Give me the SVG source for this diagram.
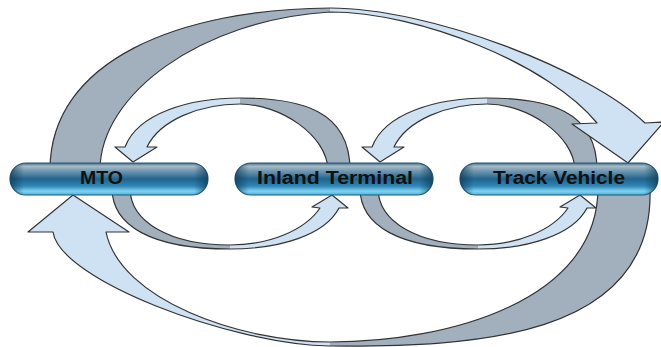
<svg xmlns="http://www.w3.org/2000/svg" width="661" height="347" viewBox="0 0 661 347">
<defs>
<style>
.gray{fill:#a2b0be}
.blue{fill:#cfe2f3}
.edge{fill:none;stroke:#333;stroke-width:1.2;stroke-linejoin:round}
.pill{fill:url(#pillV);stroke:#24597a;stroke-width:1.2}
.shade{fill:url(#pillH)}
.label{font-family:"Liberation Sans",Arial,sans-serif;font-weight:bold;font-size:18px;fill:#111;text-anchor:middle}
</style>
<linearGradient id="pillV" x1="0" y1="0" x2="0" y2="1">
<stop offset="0" stop-color="#3a6a86"/>
<stop offset="0.1" stop-color="#a9bcc7"/>
<stop offset="0.25" stop-color="#6f98b2"/>
<stop offset="0.5" stop-color="#21648d"/>
<stop offset="0.72" stop-color="#2f86b6"/>
<stop offset="0.88" stop-color="#7fd3f2"/>
<stop offset="1" stop-color="#4fb0d8"/>
</linearGradient>
<linearGradient id="pillH" x1="0" y1="0" x2="1" y2="0">
<stop offset="0" stop-color="#0e3a55" stop-opacity="0.7"/>
<stop offset="0.07" stop-color="#0e3a55" stop-opacity="0"/>
<stop offset="0.93" stop-color="#0e3a55" stop-opacity="0"/>
<stop offset="1" stop-color="#0e3a55" stop-opacity="0.7"/>
</linearGradient>
<path id="smallTop" d="M125,147 C138,113 190,98 240,98 C300,98 350,110 350,170 L328,170 C327,135 280,104 240,104 C200,104 160,120 147,147 L157,147 L133,162 L115,147 Z"/>
<path id="smallTopGray" d="M240,98 C300,98 350,110 350,170 L328,170 C327,135 280,104 240,104 Z"/>
<path id="smallBot" d="M112,188 C112,225 150,249 230,249 C280,249 325,235 339,208 L348,208 L332,195 L312,207 L320,208 C305,230 270,245 230,245 C170,245 130,222 130,188 Z"/>
<path id="smallBotGray" d="M112,188 C112,225 150,249 230,249 L230,245 C170,245 130,222 130,188 Z"/>
</defs>
<g id="connectors">
  <g id="small-top-left">
    <use href="#smallTop" class="blue"/>
    <use href="#smallTopGray" class="gray"/>
    <use href="#smallTop" class="edge"/>
  </g>
  <g id="small-top-right" transform="translate(247,0)">
    <use href="#smallTop" class="blue"/>
    <use href="#smallTopGray" class="gray"/>
    <use href="#smallTop" class="edge"/>
  </g>
  <g id="small-bottom-left">
    <use href="#smallBot" class="blue"/>
    <use href="#smallBotGray" class="gray"/>
    <use href="#smallBot" class="edge"/>
  </g>
  <g id="small-bottom-right" transform="translate(248,0)">
    <use href="#smallBot" class="blue"/>
    <use href="#smallBotGray" class="gray"/>
    <use href="#smallBot" class="edge"/>
  </g>
  <g id="big-top">
    <path class="blue" d="M50,170 C50,60 180,9 330,8 C430,8 590,70 645,123 L664,122 L628,163 L572,124 L597,123 C550,65 420,12 330,12 C200,20 100,95 100,170 Z"/>
    <path class="gray" d="M50,170 C50,60 180,9 330,8 L330,12 C200,20 100,95 100,170 Z"/>
    <path class="edge" d="M50,170 C50,60 180,9 330,8 C430,8 590,70 645,123 L664,122 L628,163 L572,124 L597,123 C550,65 420,12 330,12 C200,20 100,95 100,170 Z"/>
  </g>
  <g id="big-bottom">
    <path class="blue" d="M650,188 C655,340 470,347 330,346 C230,344 60,280 53,232 L28,232 L73,195 L129,232 L106,232 C120,300 240,342 330,342 C450,342 598,300 598,188 Z"/>
    <path class="gray" d="M650,188 C655,340 470,347 330,346 L330,342 C450,342 598,300 598,188 Z"/>
    <path class="edge" d="M650,188 C655,340 470,347 330,346 C230,344 60,280 53,232 L28,232 L73,195 L129,232 L106,232 C120,300 240,342 330,342 C450,342 598,300 598,188 Z"/>
  </g>
</g>
<g id="node-mto">
  <rect class="pill" x="10" y="163" width="198" height="32" rx="16"/>
  <rect class="shade" x="10" y="163" width="198" height="32" rx="16"/>
  <text class="label" x="101.5" y="184" textLength="43" lengthAdjust="spacingAndGlyphs">MTO</text>
</g>
<g id="node-inland-terminal">
  <rect class="pill" x="235" y="163" width="198" height="32" rx="16"/>
  <rect class="shade" x="235" y="163" width="198" height="32" rx="16"/>
  <text class="label" x="335" y="184" textLength="156" lengthAdjust="spacingAndGlyphs">Inland Terminal</text>
</g>
<g id="node-track-vehicle">
  <rect class="pill" x="460" y="163" width="198" height="32" rx="16"/>
  <rect class="shade" x="460" y="163" width="198" height="32" rx="16"/>
  <text class="label" x="559" y="184" textLength="132" lengthAdjust="spacingAndGlyphs">Track Vehicle</text>
</g>
</svg>
